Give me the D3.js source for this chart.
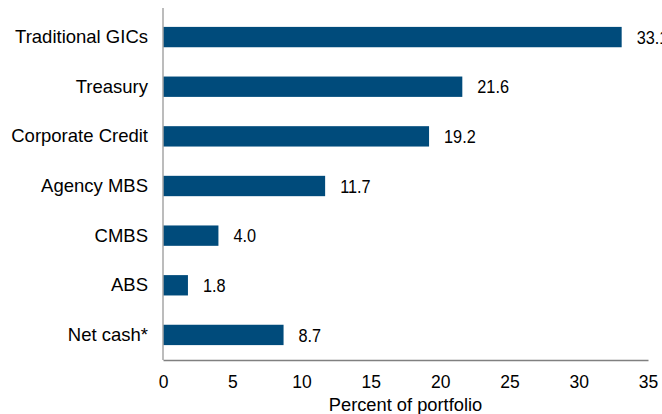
<!DOCTYPE html>
<html>
<head>
<meta charset="utf-8">
<script src="https://cdn.jsdelivr.net/npm/d3@7"></script>
<style>
  html, body { margin: 0; padding: 0; background: #fff; }
  svg { display: block; }
</style>
</head>
<body>
<div id="chart"></div>
<script>
// Portfolio allocation by sector
const categories = ["Traditional GICs", "Treasury", "Corporate Credit", "Agency MBS", "CMBS", "ABS", "Net cash*"];
const values = [33.1, 21.6, 19.2, 11.7, 4.0, 1.8, 8.7];
const xTicks = [0, 5, 10, 15, 20, 25, 30, 35];
const xTitle = "Percent of portfolio";

const W = 662, H = 414;
const margin = { top: 12, right: 14, bottom: 54, left: 163 };
const FONT = "'Liberation Sans', Arial, sans-serif";

const svg = d3.select("#chart").append("svg")
  .attr("width", W).attr("height", H);

const x = d3.scaleLinear().domain([0, 35]).range([margin.left, W - margin.right]);
const y = d3.scaleBand().domain(categories)
  .range([margin.top, H - margin.bottom]).paddingInner(0.59).paddingOuter(0.3);

// bars
svg.append("g").selectAll("rect").data(values).join("rect")
  .attr("x", x(0))
  .attr("y", (d, i) => y(categories[i]))
  .attr("width", d => x(d) - x(0))
  .attr("height", y.bandwidth())
  .attr("fill", "#004b7b");

// value labels, set in a condensed face
svg.append("g").selectAll("text").data(values).join("text")
  .attr("transform", (d, i) =>
    `translate(${x(d) + 15},${y(categories[i]) + y.bandwidth() / 2}) scale(0.88,1)`)
  .attr("dy", "0.36em")
  .attr("font-family", FONT)
  .attr("font-size", 18.5)
  .attr("fill", "#000")
  .text(d => d.toFixed(1));

// category axis
const yAxis = svg.append("g").attr("transform", `translate(${margin.left},0)`)
  .call(d3.axisLeft(y).tickSize(0).tickPadding(15));
yAxis.select(".domain").remove();
yAxis.selectAll("text")
  .attr("font-family", FONT)
  .attr("font-size", 18.5).attr("fill", "#000");

svg.append("line")
  .attr("x1", margin.left).attr("x2", margin.left)
  .attr("y1", 8).attr("y2", H - margin.bottom)
  .attr("stroke", "#a6a6a6").attr("stroke-width", 1.5);

// value axis
const xAxis = svg.append("g").attr("transform", `translate(0,${H - margin.bottom})`)
  .call(d3.axisBottom(x).tickValues(xTicks).tickSize(0).tickPadding(16));
xAxis.select(".domain").attr("stroke", "#808080").attr("stroke-width", 1.5);
xAxis.selectAll("text")
  .attr("font-family", FONT)
  .attr("font-size", 17.5).attr("fill", "#000");

svg.append("text")
  .attr("x", (x(0) + x(35)) / 2)
  .attr("y", 411)
  .attr("text-anchor", "middle")
  .attr("font-family", FONT)
  .attr("font-size", 18.3).attr("fill", "#000")
  .text(xTitle);
</script>
</body>
</html>
